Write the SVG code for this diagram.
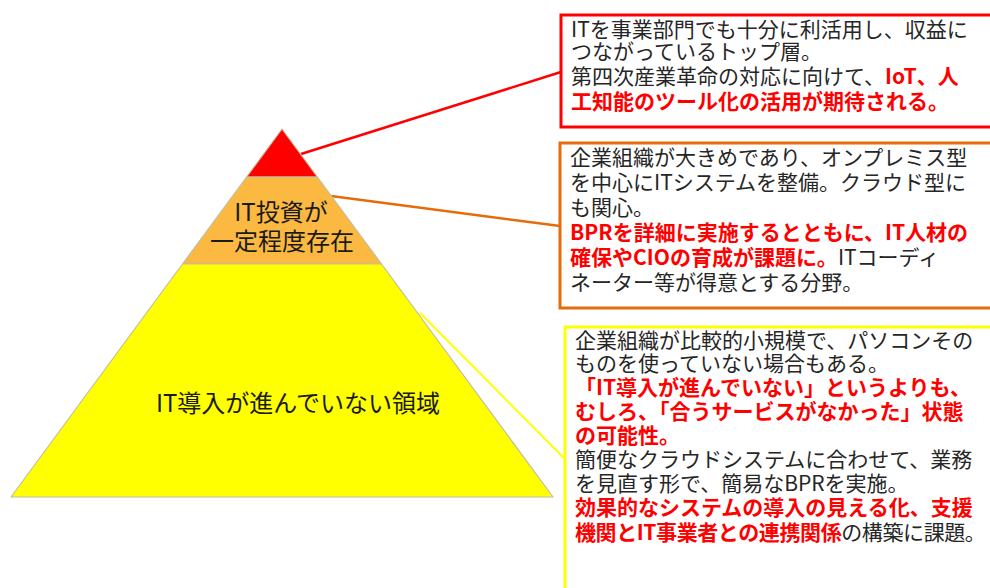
<svg xmlns="http://www.w3.org/2000/svg" width="990" height="588" viewBox="0 0 990 588">
<style>
.t{font-family:"Noto Sans CJK JP","Noto Sans",sans-serif;font-size:21px;fill:#262626}
.r{fill:#FF0000;font-weight:bold}
.p{font-family:"Noto Sans CJK JP","Noto Sans",sans-serif;font-size:24px;fill:#1a1a1a;text-anchor:middle}
.sec{stroke:#C4BE9E;stroke-width:1.2;stroke-linejoin:round}
.box{fill:#FFFFFF;stroke-width:3}
</style>
<rect width="990" height="588" fill="#FFFFFF"/>
<g id="connectors" fill="none">
<line x1="301" y1="154" x2="561" y2="72" stroke="#FF0000" stroke-width="2.5"/>
<line x1="331" y1="196" x2="560" y2="226" stroke="#E46C0A" stroke-width="2.5"/>
<line x1="420" y1="313" x2="566" y2="460" stroke="#FFFF00" stroke-width="2"/>
</g>
<g id="pyramid-top">
<polygon class="sec" points="282,129 246.6,177 317.4,177" fill="#FF0000"/>
</g>
<g id="pyramid-middle">
<polygon class="sec" points="246.6,177 317.4,177 381.5,264 182.5,264" fill="#FBB942"/>
<text class="p" x="281" y="221">IT投資が</text>
<text class="p" x="282" y="250">一定程度存在</text>
</g>
<g id="pyramid-bottom">
<polygon class="sec" points="182.5,264 381.5,264 553,497 11,497" fill="#FFFF00"/>
<text class="p" x="298" y="412">IT導入が進んでいない領域</text>
</g>
<g id="box-top">
<rect class="box" x="561" y="15" width="440" height="112" stroke="#FF0000"/>
<text class="t" x="571" y="37">ITを事業部門でも十分に利活用し、収益に</text>
<text class="t" x="571" y="59">つながっているトップ層。</text>
<text class="t" x="571" y="84">第四次産業革命の対応に向けて、<tspan class="r">IoT、人</tspan></text>
<text class="t r" x="571" y="109">工知能のツール化の活用が期待される。</text>
</g>
<g id="box-middle">
<rect class="box" x="560" y="143" width="440" height="165" stroke="#E46C0A"/>
<text class="t" x="570" y="165">企業組織が大きめであり、オンプレミス型</text>
<text class="t" x="570" y="190">を中心にITシステムを整備。クラウド型に</text>
<text class="t" x="570" y="215">も関心。</text>
<text class="t r" x="570" y="240">BPRを詳細に実施するとともに、IT人材の</text>
<text class="t" x="570" y="265"><tspan class="r">確保やCIOの育成が課題に。</tspan>ITコーディ</text>
<text class="t" x="570" y="290">ネーター等が得意とする分野。</text>
</g>
<g id="box-bottom">
<rect class="box" x="565" y="327" width="440" height="280" stroke="#FFFF00"/>
<text class="t" x="575" y="348">企業組織が比較的小規模で、パソコンその</text>
<text class="t" x="575" y="371">ものを使っていない場合もある。</text>
<text class="t r" x="575" y="395">「IT導入が進んでいない」というよりも、</text>
<text class="t r" x="575" y="419">むしろ、「合うサービスがなかった」状態</text>
<text class="t r" x="575" y="443">の可能性。</text>
<text class="t" x="575" y="467">簡便なクラウドシステムに合わせて、業務</text>
<text class="t" x="575" y="491">を見直す形で、簡易なBPRを実施。</text>
<text class="t r" x="575" y="515">効果的なシステムの導入の見える化、支援</text>
<text class="t" x="575" y="540" letter-spacing="-0.4"><tspan class="r">機関とIT事業者との連携関係</tspan>の構築に課題。</text>
</g>
</svg>
